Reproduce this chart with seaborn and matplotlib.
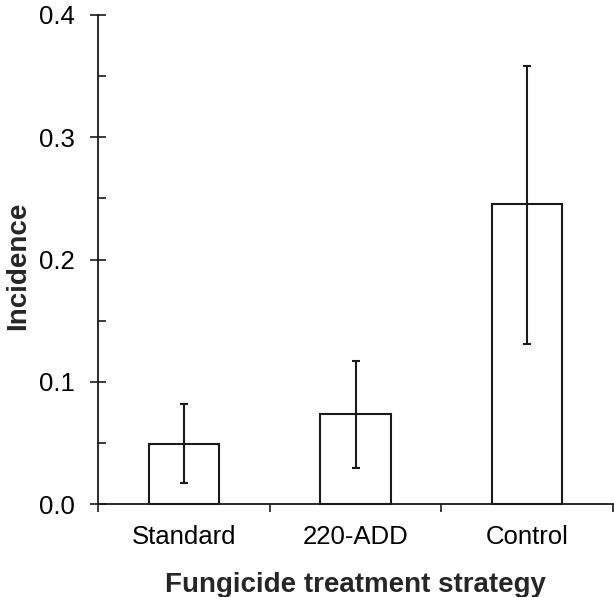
import numpy as np
import pandas as pd
import matplotlib
matplotlib.use("Agg")
import matplotlib.pyplot as plt
import seaborn as sns
from matplotlib.ticker import MultipleLocator, FixedLocator

categories = ["Standard", "220-ADD", "Control"]
means = [0.049, 0.0735, 0.245]
err_low = [0.017, 0.0295, 0.131]
err_high = [0.082, 0.117, 0.358]
y_ticks = [0.0, 0.1, 0.2, 0.3, 0.4]
y_tick_labels = ["0.0", "0.1", "0.2", "0.3", "0.4"]

sns.set_style("ticks")
plt.rcParams["font.family"] = ["Liberation Sans", "DejaVu Sans"]

df = pd.DataFrame({"strategy": categories, "incidence": means})

fig = plt.figure(figsize=(6.14, 5.97), dpi=100)
ax = fig.add_axes([98 / 614, 1 - 504 / 597, 515 / 614, (504 - 15) / 597])

line_col = "#1a1a1a"
sns.barplot(data=df, x="strategy", y="incidence", order=categories, width=0.41,
            color="white", saturation=1, edgecolor=line_col, linewidth=1.5,
            errorbar=None, ax=ax)

m = np.array(means)
lo = m - np.array(err_low)
hi = np.array(err_high) - m
ax.errorbar(x=np.arange(len(categories)), y=m, yerr=[lo, hi], fmt="none",
            ecolor=line_col, elinewidth=1.5, capsize=3, capthick=1.5)

ax.set_xlim(-0.5, len(categories) - 0.5)
ax.set_ylim(0, 0.4)

for s in ["top", "right"]:
    ax.spines[s].set_visible(False)
for s in ["left", "bottom"]:
    ax.spines[s].set_color(line_col)
    ax.spines[s].set_linewidth(1.3)

ax.set_yticks(y_ticks)
ax.set_yticklabels(y_tick_labels)
ax.yaxis.set_minor_locator(MultipleLocator(0.05))
ax.tick_params(axis="y", which="major", direction="inout", length=11, width=1.2,
               colors=line_col, labelcolor="black", labelsize=18.5, pad=11)
ax.tick_params(axis="y", which="minor", direction="in", length=5.5, width=1.2,
               colors=line_col)

ax.set_xticks(range(len(categories)))
ax.set_xticklabels(categories)
ax.xaxis.set_minor_locator(FixedLocator([-0.5, 0.5, 1.5, 2.5]))
ax.tick_params(axis="x", which="major", length=0, labelsize=18.5, pad=15,
               labelcolor="black")
ax.tick_params(axis="x", which="minor", direction="out", length=5.5, width=1.2,
               colors=line_col)

ax.set_xlabel("Fungicide treatment strategy", fontsize=20, fontweight="bold",
              labelpad=17)
ax.set_ylabel("Incidence", fontsize=20, fontweight="bold")
ax.yaxis.set_label_coords(-0.130, 0.487)

for a in ax.patches:
    a.set_clip_on(False)

fig.savefig("out.png", dpi=100)
